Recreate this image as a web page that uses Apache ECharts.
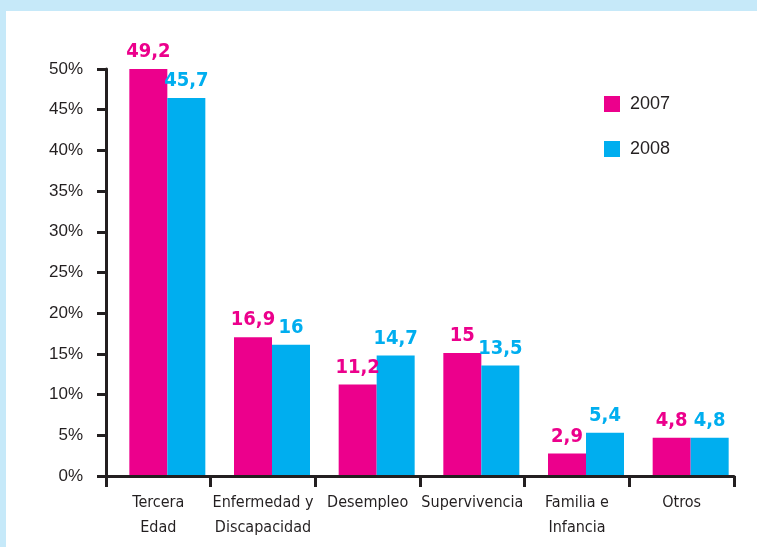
<!DOCTYPE html>
<html>
<head>
<meta charset="utf-8">
<script src="https://cdn.jsdelivr.net/npm/echarts@6/dist/echarts.min.js"></script>
<style>
  html, body { margin: 0; padding: 0; background: #c6e9f9; width: 757px; height: 547px; overflow: hidden; }
  #chart { position: absolute; left: 6px; top: 11px; width: 751px; height: 536px; background: #ffffff; }
</style>
</head>
<body>
<div id="chart"></div>
<script>
const categories = ['Tercera\nEdad', 'Enfermedad y\nDiscapacidad', 'Desempleo', 'Supervivencia', 'Familia e\nInfancia', 'Otros'];
const seriesNames = ['2007', '2008'];
const values2007 = [49.2, 16.9, 11.2, 15, 2.9, 4.8];
const values2008 = [45.7, 16, 14.7, 13.5, 5.4, 4.8];
const yMin = 0, yMax = 50, yStep = 5;

const PINK = '#ec008c';
const BLUE = '#00aeef';
const INK = '#231f20';
const CONDENSED = "'DejaVu Sans Condensed', 'DejaVu Sans', sans-serif";

const chart = echarts.init(document.getElementById('chart'), null, { renderer: 'canvas' });

function valueLabel(color) {
  return {
    show: true,
    position: 'top',
    distance: 7,
    color: color,
    fontFamily: CONDENSED,
    fontWeight: 'bold',
    fontSize: 20,
    formatter: p => String(p.value).replace('.', ',')
  };
}

const option = {
  animation: false,
  legend: {
    data: seriesNames,
    orient: 'vertical',
    left: 593,
    top: 79,
    itemWidth: 16,
    itemHeight: 16,
    itemGap: 27,
    icon: 'rect',
    textStyle: { fontFamily: 'Liberation Sans', fontSize: 18, color: INK, padding: [0, 0, 0, 5] }
  },
  grid: [
    { left: 100, top: 58, width: 628, height: 407 },
    { left: 109, top: 51.3, width: 628, height: 415.2 }
  ],
  xAxis: [
    {
      gridIndex: 0,
      type: 'category',
      data: categories,
      z: 10,
      axisLine: { lineStyle: { color: INK, width: 3 } },
      axisTick: { show: true, length: 11, lineStyle: { color: INK, width: 3 } },
      axisLabel: {
        interval: 0,
        margin: 14,
        color: INK,
        fontFamily: CONDENSED,
        fontSize: 16,
        lineHeight: 25
      },
      splitLine: { show: false }
    },
    {
      gridIndex: 1,
      type: 'category',
      data: categories,
      show: false
    }
  ],
  yAxis: [
    {
      gridIndex: 0,
      type: 'value',
      min: yMin,
      max: yMax,
      interval: yStep,
      z: 10,
      axisLine: { show: true, lineStyle: { color: INK, width: 3 } },
      axisTick: { show: true, length: 9, lineStyle: { color: INK, width: 3 } },
      splitLine: { show: false },
      axisLabel: {
        formatter: '{value}%',
        margin: 23,
        color: INK,
        fontFamily: 'Liberation Sans',
        fontSize: 17
      }
    },
    {
      gridIndex: 1,
      type: 'value',
      min: yMin,
      max: yMax,
      show: false,
      splitLine: { show: false }
    }
  ],
  series: [
    {
      name: seriesNames[0],
      type: 'bar',
      xAxisIndex: 1,
      yAxisIndex: 1,
      data: values2007,
      barWidth: 38,
      barGap: '0%',
      itemStyle: { color: PINK },
      label: valueLabel(PINK)
    },
    {
      name: seriesNames[1],
      type: 'bar',
      xAxisIndex: 1,
      yAxisIndex: 1,
      data: values2008,
      barWidth: 38,
      barGap: '0%',
      itemStyle: { color: BLUE },
      label: valueLabel(BLUE)
    }
  ]
};

chart.setOption(option);
</script>
</body>
</html>
